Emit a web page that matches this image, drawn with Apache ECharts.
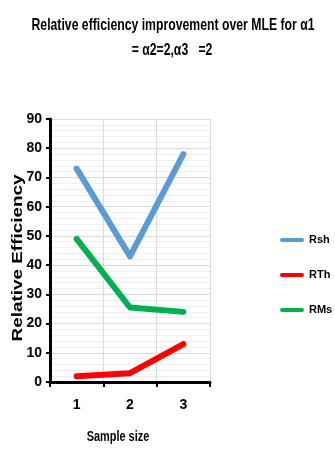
<!DOCTYPE html>
<html><head><meta charset="utf-8">
<script src="https://cdn.jsdelivr.net/npm/echarts@6/dist/echarts.min.js"></script>
<style>html,body{margin:0;padding:0;background:#fff}#c{width:335px;height:460px}</style>
</head><body><div id="c"></div>
<script>
const categories = ['1', '2', '3'];
const rsh = [73, 43, 78];
const rth = [2, 3, 13];
const rms = [49, 25.5, 24];
const seriesNames = ['Rsh', 'RTh', 'RMs'];
const colors = ['#5b9bd5', '#ff0000', '#00b050'];
const titleLines = ['Relative efficiency improvement over MLE for α1', '= α2=2,α3   =2'];
const xName = 'Sample size';
const yName = 'Relative Efficiency';

const sans = "Liberation Sans, Arial, sans-serif";
const chart = echarts.init(document.getElementById('c'));
const mk = (name, data, i) => ({
  name, type: 'line', data, xAxisIndex: 0, yAxisIndex: 0,
  symbol: 'none', smooth: false,
  lineStyle: { width: 6, color: colors[i], cap: 'round', join: 'round' },
  itemStyle: { color: colors[i] }
});
const txt = (text, x, y, size, sx, extra) => Object.assign({
  type: 'text', x, y, scaleX: sx, scaleY: 1,
  style: { text, fill: '#000', font: 'bold ' + size + 'px ' + sans, align: 'center', verticalAlign: 'middle' }
}, extra || {});
chart.setOption({
  animation: false,
  color: colors,
  graphic: [
    txt(titleLines[0], 173, 25, 17, 0.72),
    txt(titleLines[1], 172, 50, 17, 0.72),
    txt(xName, 118, 437, 14, 0.78),
    txt(yName, 18, 258, 14, 1.35, { rotation: Math.PI / 2 })
  ],
  legend: {
    orient: 'vertical', left: 280, top: 233, itemGap: 21, padding: 0,
    itemWidth: 24, itemHeight: 14, icon: 'path://M2,5 L22,5 A2,2 0 0 1 22,9 L2,9 A2,2 0 0 1 2,5 Z',
    textStyle: { fontFamily: sans, fontWeight: 'bold', fontSize: 11, color: '#000', lineHeight: 14 },
    data: seriesNames
  },
  grid: { left: 50, right: 125, top: 119, bottom: 78 },
  xAxis: [
    { type: 'category', data: categories, boundaryGap: true,
      axisLine: { lineStyle: { color: '#000', width: 3 } },
      axisTick: { show: true, length: 5, lineStyle: { color: '#000', width: 2 } },
      axisLabel: { margin: 16, fontFamily: sans, fontWeight: 'bold', fontSize: 14, color: '#000' },
      splitLine: { show: true, lineStyle: { color: '#d9d9d9', width: 1 } }
    },
    { type: 'value', min: 0, max: 6, interval: 1, show: false, position: 'bottom',
      splitLine: { show: true, lineStyle: { color: '#e6e6e6', width: 1 } } }
  ],
  yAxis: {
    type: 'value', min: 0, max: 90, interval: 10,
    axisLine: { show: true, lineStyle: { color: '#000', width: 3 } },
    axisTick: { show: true, length: 4, lineStyle: { color: '#000', width: 2 } },
    axisLabel: { margin: 8, fontFamily: sans, fontWeight: 'bold', fontSize: 14, color: '#000' },
    splitLine: { show: true, lineStyle: { color: '#d9d9d9', width: 1 } },
    minorTick: { show: false, splitNumber: 5 },
    minorSplitLine: { show: true, lineStyle: { color: '#efefef', width: 1 } }
  },
  series: [mk('Rsh', rsh, 0), mk('RTh', rth, 1), mk('RMs', rms, 2)]
});
</script></body></html>
